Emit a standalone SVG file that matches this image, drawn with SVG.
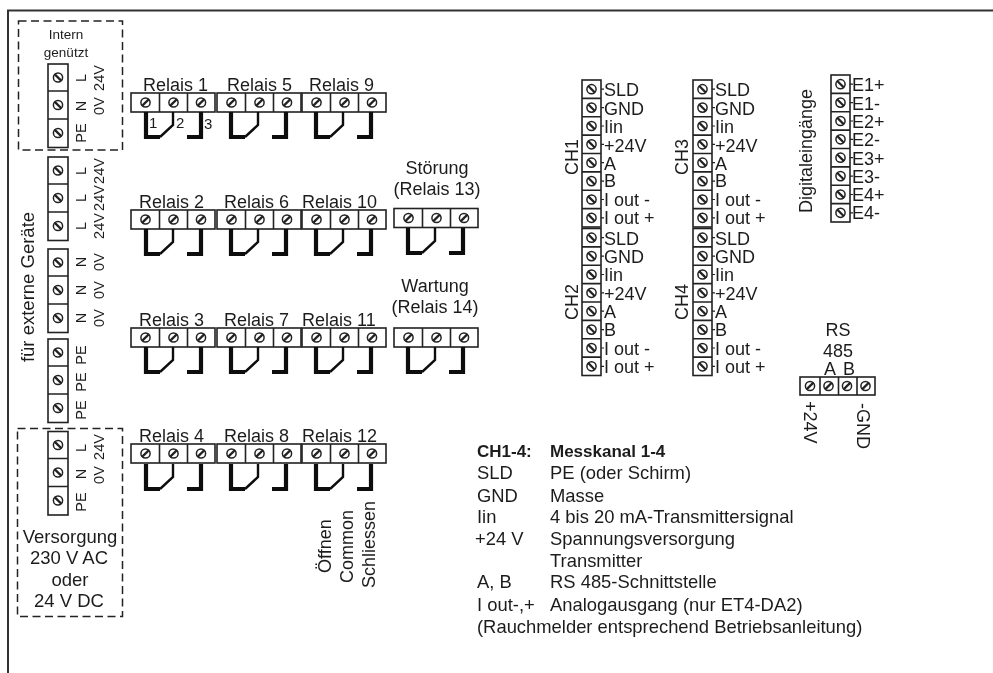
<svg xmlns="http://www.w3.org/2000/svg" width="993" height="673" viewBox="0 0 993 673">
<style>
text{font-family:"Liberation Sans",Arial,sans-serif;fill:#1c1c1c;font-size:18px}
.c{text-anchor:middle}
.sm{font-size:13.5px}
.num{font-size:15px}
.lb{font-size:14.5px;text-anchor:middle}
.v{font-size:18.5px;text-anchor:middle}
#legende text{font-size:18.4px}
#legende text.h{font-weight:bold;font-size:17px}
.b{fill:#fff;stroke:#222;stroke-width:1.6}
.d{stroke:#222;stroke-width:1.6;fill:none}
.dash{fill:none;stroke:#222;stroke-width:1.5;stroke-dasharray:8 4.5}
.sc{fill:#fff;stroke:#222;stroke-width:1.5}
.sl{stroke:#222;stroke-width:2.2}
.th{fill:none;stroke:#111;stroke-width:4.2;stroke-linejoin:miter}
.tn{fill:none;stroke:#111;stroke-width:2.4}
.t{stroke:#222;stroke-width:1.2}
</style>
<defs>
<filter id="soft" x="0" y="0" width="100%" height="100%"><feGaussianBlur stdDeviation="0.4"/></filter>
<g id="s1"><circle class="sc" r="4.6"/><line class="sl" x1="-3.4" y1="3.4" x2="3.4" y2="-3.4"/></g>
<g id="s2"><circle class="sc" r="4.6"/><line class="sl" x1="-3.4" y1="-3.4" x2="3.4" y2="3.4"/></g>
<g id="relay">
<rect class="b" width="84" height="19"/>
<path class="d" d="M28.5 0V19M56.5 0V19"/>
<use href="#s1" x="14.5" y="9.5"/><use href="#s1" x="42.5" y="9.5"/><use href="#s1" x="70" y="9.5"/>
</g>
<g id="jump">
<path class="th" d="M15 19V44H29"/>
<path class="tn" d="M29 44L42 32V19"/>
<path class="th" d="M70 19V44H56"/>
</g>
<g id="v3">
<rect class="b" width="20" height="83.5"/>
<path class="d" d="M0 27H20M0 55H20"/>
<use href="#s2" x="10" y="13.5"/><use href="#s2" x="10" y="41"/><use href="#s2" x="10" y="69"/>
</g>
<g id="v8">
<rect class="b" width="19" height="147"/>
<path class="d" d="M0 18.4H19M0 36.8H19M0 55.1H19M0 73.5H19M0 91.9H19M0 110.3H19M0 128.6H19"/>
<use href="#s2" x="9.5" y="9.2"/><use href="#s2" x="9.5" y="27.6"/><use href="#s2" x="9.5" y="46"/><use href="#s2" x="9.5" y="64.3"/><use href="#s2" x="9.5" y="82.7"/><use href="#s2" x="9.5" y="101.1"/><use href="#s2" x="9.5" y="119.5"/><use href="#s2" x="9.5" y="137.8"/>
<path class="t" d="M19 9.2h3M19 27.6h3M19 46h3M19 64.3h3M19 82.7h3M19 101.1h3M19 119.5h3M19 137.8h3"/>
</g>
</defs>
<g filter="url(#soft)">
<rect width="993" height="673" fill="#fff"/>
<path id="frame" d="M8 673V10.500H993" fill="none" stroke="#333" stroke-width="2"/>

<g id="intern">
<rect class="dash" x="18.500" y="21" width="104" height="129"/>
<text class="sm c" x="66" y="39">Intern</text>
<text class="sm c" x="66" y="57">genützt</text>
<use href="#v3" x="48" y="64"/>
<text class="lb" transform="translate(86 78) rotate(-90)">L</text>
<text class="lb" transform="translate(86 106) rotate(-90)">N</text>
<text class="lb" transform="translate(86 133) rotate(-90)">PE</text>
<text class="lb" transform="translate(104 78) rotate(-90)">24V</text>
<text class="lb" transform="translate(104 106) rotate(-90)">0V</text>
</g>

<g id="extern">
<text class="v" transform="translate(34 287) rotate(-90)">für externe Geräte</text>
<use href="#v3" x="48" y="157"/>
<text class="lb" transform="translate(86 171) rotate(-90)">L</text>
<text class="lb" transform="translate(86 198) rotate(-90)">L</text>
<text class="lb" transform="translate(86 226) rotate(-90)">L</text>
<text class="lb" transform="translate(104 171) rotate(-90)">24V</text>
<text class="lb" transform="translate(104 198) rotate(-90)">24V</text>
<text class="lb" transform="translate(104 226) rotate(-90)">24V</text>
<use href="#v3" x="48" y="249"/>
<text class="lb" transform="translate(86 262) rotate(-90)">N</text>
<text class="lb" transform="translate(86 290) rotate(-90)">N</text>
<text class="lb" transform="translate(86 318) rotate(-90)">N</text>
<text class="lb" transform="translate(104 262) rotate(-90)">0V</text>
<text class="lb" transform="translate(104 290) rotate(-90)">0V</text>
<text class="lb" transform="translate(104 318) rotate(-90)">0V</text>
<use href="#v3" x="48" y="339"/>
<text class="lb" transform="translate(86 355) rotate(-90)">PE</text>
<text class="lb" transform="translate(86 382) rotate(-90)">PE</text>
<text class="lb" transform="translate(86 410) rotate(-90)">PE</text>
</g>

<g id="versorgung">
<rect class="dash" x="17.500" y="428.500" width="105" height="188"/>
<use href="#v3" x="48" y="431.500"/>
<text class="lb" transform="translate(86 448) rotate(-90)">L</text>
<text class="lb" transform="translate(86 474) rotate(-90)">N</text>
<text class="lb" transform="translate(86 502) rotate(-90)">PE</text>
<text class="lb" transform="translate(104 447) rotate(-90)">24V</text>
<text class="lb" transform="translate(104 475) rotate(-90)">0V</text>
<text class="v" x="70" y="543">Versorgung</text>
<text class="v" x="69" y="564">230 V AC</text>
<text class="v" x="70" y="586">oder</text>
<text class="v" x="69" y="607">24 V DC</text>
</g>

<g id="relais-1"><use href="#relay" x="131" y="93"/><text x="143" y="91">Relais 1</text>
<text class="num" x="149" y="128">1</text><text class="num" x="176" y="128">2</text><text class="num" x="204" y="129">3</text></g>
<g id="relais-5"><use href="#relay" x="217" y="93"/><text x="227" y="91">Relais 5</text></g>
<g id="relais-9"><use href="#relay" x="302" y="93"/><text x="309" y="91">Relais 9</text></g>
<g id="relais-2"><use href="#relay" x="131" y="210"/><text x="139" y="208">Relais 2</text></g>
<g id="relais-6"><use href="#relay" x="217" y="210"/><text x="224" y="208">Relais 6</text></g>
<g id="relais-10"><use href="#relay" x="302" y="210"/><text x="302" y="208">Relais 10</text></g>
<g id="relais-3"><use href="#relay" x="131" y="328"/><text x="139" y="326">Relais 3</text></g>
<g id="relais-7"><use href="#relay" x="217" y="328"/><text x="224" y="326">Relais 7</text></g>
<g id="relais-11"><use href="#relay" x="302" y="328"/><text x="302" y="326">Relais 11</text></g>
<g id="relais-4"><use href="#relay" x="131" y="444"/><text x="139" y="442">Relais 4</text></g>
<g id="relais-8"><use href="#relay" x="217" y="444"/><text x="224" y="442">Relais 8</text></g>
<g id="relais-12"><use href="#relay" x="302" y="444"/><text x="302" y="442">Relais 12</text>
<text transform="translate(331 573) rotate(-90)">Öffnen</text>
<text transform="translate(353 583) rotate(-90)">Common</text>
<text transform="translate(375 588) rotate(-90)">Schliessen</text></g>
<g id="relais-13"><use href="#relay" x="394" y="208.500"/><text class="c" x="437" y="174">Störung</text><text class="c" x="437" y="195">(Relais 13)</text></g>
<g id="relais-14"><use href="#relay" x="394" y="328"/><text class="c" x="435" y="292">Wartung</text><text class="c" x="435" y="313">(Relais 14)</text></g>

<g id="connectors">
<use href="#jump" x="131" y="93"/><use href="#jump" x="216" y="93"/><use href="#jump" x="301" y="93"/>
<use href="#jump" x="131" y="210"/><use href="#jump" x="216" y="210"/><use href="#jump" x="301" y="210"/>
<use href="#jump" x="131" y="328"/><use href="#jump" x="216" y="328"/><use href="#jump" x="301" y="328"/>
<use href="#jump" x="131" y="445"/><use href="#jump" x="216" y="445"/><use href="#jump" x="301" y="445"/>
<use href="#jump" x="393" y="209"/><use href="#jump" x="393" y="328"/>
</g>

<g id="ch1"><use href="#v8" x="582" y="80"/><text class="c" transform="translate(578 157) rotate(-90)">CH1</text>
<text x="604" y="96">SLD</text><text x="604" y="115">GND</text><text x="604" y="133">Iin</text><text x="604" y="152">+24V</text><text x="604" y="170">A</text><text x="604" y="187">B</text><text x="604" y="206">I out -</text><text x="604" y="224">I out +</text></g>
<g id="ch2"><use href="#v8" x="582" y="228.500"/><text class="c" transform="translate(578 302) rotate(-90)">CH2</text>
<text x="604" y="245">SLD</text><text x="604" y="263">GND</text><text x="604" y="281">Iin</text><text x="604" y="300">+24V</text><text x="604" y="318">A</text><text x="604" y="336">B</text><text x="604" y="355">I out -</text><text x="604" y="373">I out +</text></g>
<g id="ch3"><use href="#v8" x="693" y="80"/><text class="c" transform="translate(688 157) rotate(-90)">CH3</text>
<text x="715" y="96">SLD</text><text x="715" y="115">GND</text><text x="715" y="133">Iin</text><text x="715" y="152">+24V</text><text x="715" y="170">A</text><text x="715" y="187">B</text><text x="715" y="206">I out -</text><text x="715" y="224">I out +</text></g>
<g id="ch4"><use href="#v8" x="693" y="228.500"/><text class="c" transform="translate(688 302) rotate(-90)">CH4</text>
<text x="715" y="245">SLD</text><text x="715" y="263">GND</text><text x="715" y="281">Iin</text><text x="715" y="300">+24V</text><text x="715" y="318">A</text><text x="715" y="336">B</text><text x="715" y="355">I out -</text><text x="715" y="373">I out +</text></g>

<g id="digital"><use href="#v8" x="831" y="75"/><text class="c" transform="translate(812 151) rotate(-90)">Digitaleingänge</text>
<text x="852" y="91">E1+</text><text x="852" y="109.500">E1-</text><text x="852" y="128">E2+</text><text x="852" y="146">E2-</text><text x="852" y="164.500">E3+</text><text x="852" y="183">E3-</text><text x="852" y="201">E4+</text><text x="852" y="219">E4-</text></g>

<g id="rs485">
<text class="c" x="838" y="336">RS</text><text class="c" x="838" y="357">485</text>
<text class="c" x="830" y="375">A</text><text class="c" x="849" y="375">B</text>
<rect class="b" x="800" y="377" width="75" height="18"/>
<path class="d" d="M820 377V395M838.500 377V395M857 377V395"/>
<use href="#s1" x="810" y="386"/><use href="#s1" x="828.500" y="386"/><use href="#s1" x="847" y="386"/><use href="#s1" x="865.500" y="386"/>
<text transform="translate(804 401) rotate(90)">+24V</text>
<text transform="translate(857 403) rotate(90)">-GND</text>
</g>

<g id="legende">
<text class="h" x="477" y="457">CH1-4:</text><text class="h" x="550" y="457">Messkanal 1-4</text>
<text x="477" y="479">SLD</text><text x="550" y="479">PE (oder Schirm)</text>
<text x="477" y="502">GND</text><text x="550" y="502">Masse</text>
<text x="477" y="523">Iin</text><text x="550" y="523">4 bis 20 mA-Transmittersignal</text>
<text x="475" y="545">+24 V</text><text x="550" y="545">Spannungsversorgung</text>
<text x="550" y="567">Transmitter</text>
<text x="477" y="588">A, B</text><text x="550" y="588">RS 485-Schnittstelle</text>
<text x="477" y="611">I out-,+</text><text x="550" y="611">Analogausgang (nur ET4-DA2)</text>
<text x="477" y="633">(Rauchmelder entsprechend Betriebsanleitung)</text>
</g>
</g>
</svg>
